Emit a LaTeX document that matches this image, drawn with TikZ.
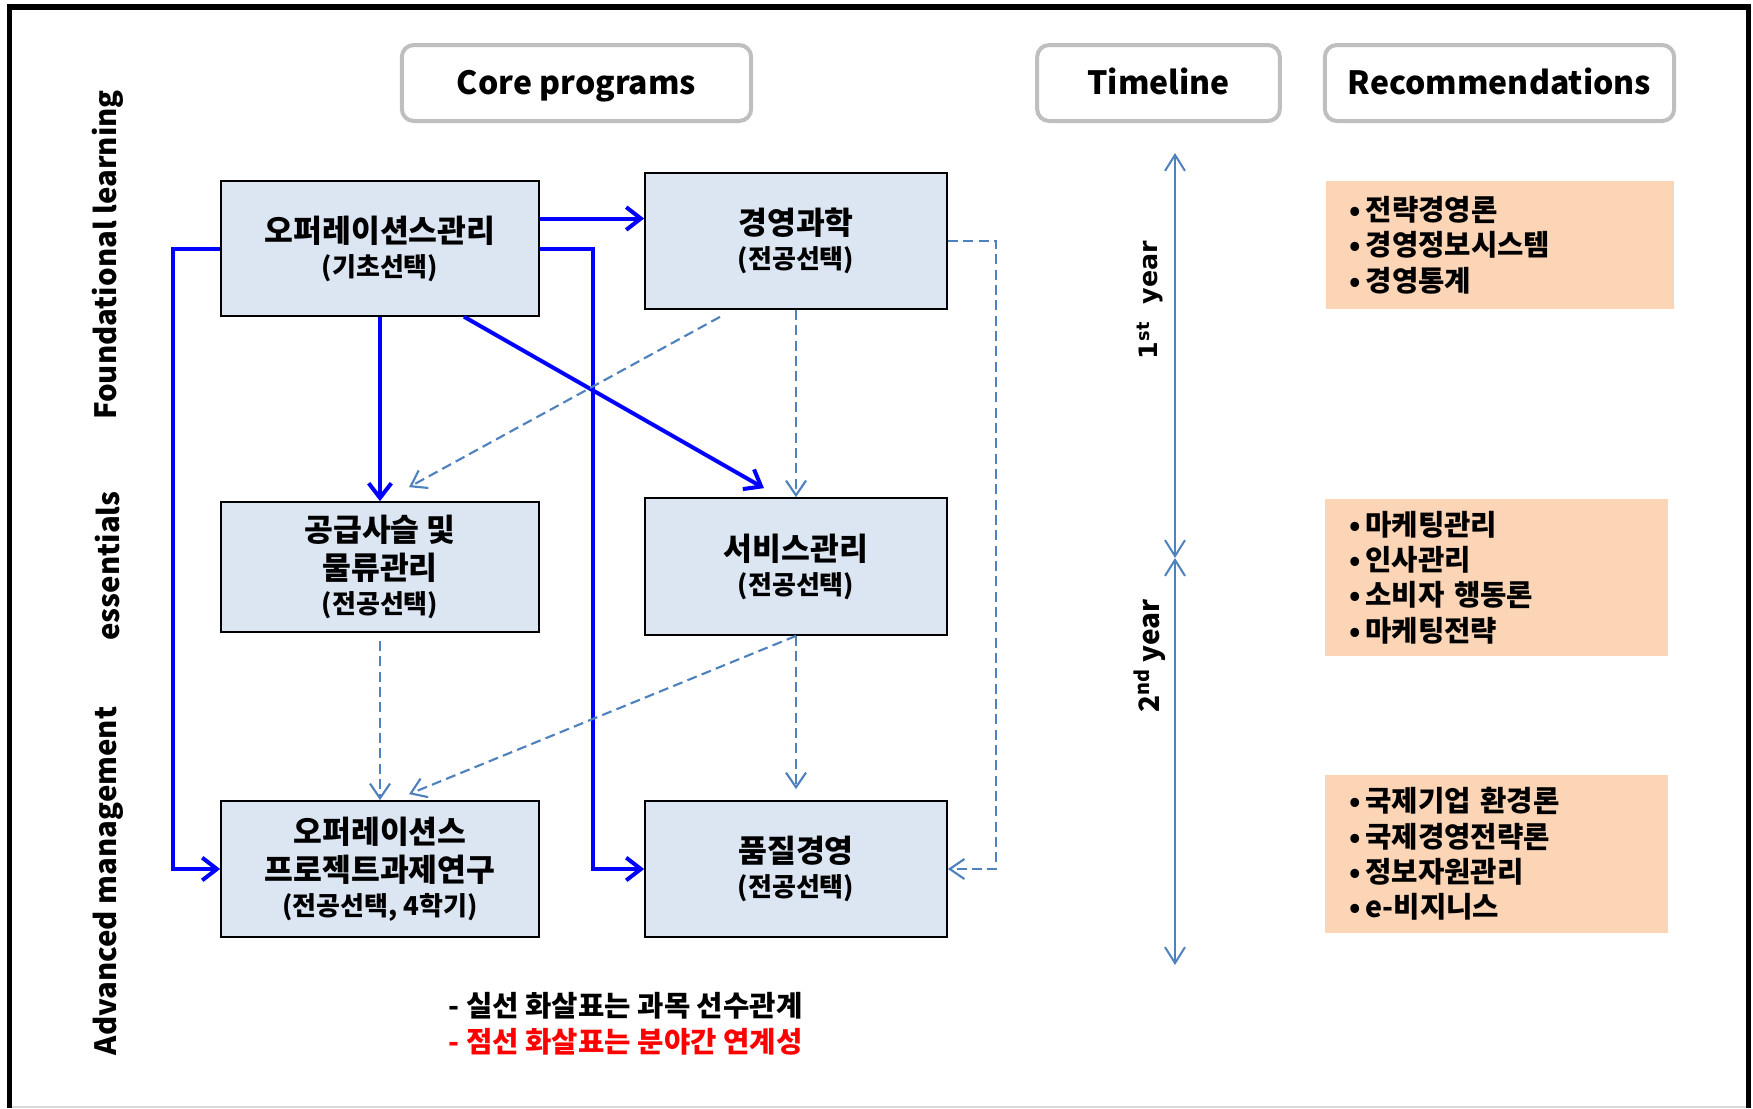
\documentclass[tikz,border=0pt]{standalone}
\usepackage{fontspec}
\setmainfont{Noto Sans CJK KR}
\newfontfamily\yearfont{DejaVu Sans}
\usetikzlibrary{arrows.meta,calc}
\definecolor{boxblue}{HTML}{DCE6F2}
\definecolor{peach}{HTML}{FBD5B5}
\definecolor{dashblue}{HTML}{4F81BD}
\definecolor{hdrgray}{HTML}{BFBFBF}
\definecolor{legendred}{HTML}{FF0000}
\begin{document}
\begin{tikzpicture}[x=0.75pt,y=-0.75pt,
  course/.style={draw=black,line width=1.3pt,fill=boxblue,align=center,inner sep=0pt,
    font=\bfseries\fontsize{23.5}{28.5}\selectfont},
  hdr/.style={draw=hdrgray,line width=3pt,rounded corners=9pt,fill=white,
    minimum height=57pt,inner sep=0pt,text height=20pt,text depth=3pt,
    font=\bfseries\fontsize{24}{28}\selectfont},
  rec/.style={fill=peach,inner ysep=0pt,inner xsep=18pt,align=left,
    font=\bfseries\fontsize{21.5}{26.5}\selectfont},
  side/.style={rotate=90,font=\bfseries\fontsize{22}{26}\selectfont},
  solidarr/.style={draw=blue,line width=3pt,-{Straight Barb[length=11pt,width=17pt]}},
  dasharr/.style={draw=dashblue,line width=1.6pt,dash pattern=on 7.5pt off 4pt,
    -{Straight Barb[length=11pt,width=15pt]}},
  timearr/.style={draw=dashblue,line width=1.5pt,
    {Straight Barb[length=12pt,width=15pt]}-{Straight Barb[length=12pt,width=15pt]}}
]
\useasboundingbox (0,0) rectangle (1753,1108);
% frame
\draw[black,line width=4pt] (9.5,1108) -- (9.5,7) -- (1748.5,7) -- (1748.5,1108);
\draw[black!15,line width=1.5pt] (12,1107) -- (1746,1107);

% headers
\node[hdr,minimum width=262pt] (hcore) at (576.5,83) {Core programs};
\node[hdr,minimum width=182pt] (htime) at (1158.5,83) {Timeline};
\node[hdr,minimum width=262pt] (hrec) at (1499.5,83) {Recommendations};

% side labels
\node[side] (s1) at (108,255) {Foundational learning};
\node[side] (s2) at (108,566) {essentials};
\node[side] (s3) at (108,881) {Advanced management};

% course boxes
\node[course,minimum width=238.5pt,minimum height=101pt] (A) at (380,248.5)
  {오퍼레이션스관리\\[-3pt]{\fontsize{19.5}{23}\selectfont (기초선택)}};
\node[course,minimum width=226.5pt,minimum height=102pt] (B) at (796,241)
  {경영과학\\[-3pt]{\fontsize{19.5}{23}\selectfont (전공선택)}};
\node[course,minimum width=238.5pt,minimum height=97.5pt] (C) at (380,567)
  {공급사슬 및\\물류관리\\[-3pt]{\fontsize{19.5}{23}\selectfont (전공선택)}};
\node[course,minimum width=226.5pt,minimum height=102.75pt] (D) at (796,566.5)
  {서비스관리\\[-3pt]{\fontsize{19.5}{23}\selectfont (전공선택)}};
\node[course,minimum width=238.5pt,minimum height=102pt] (E) at (380,869)
  {오퍼레이션스\\프로젝트과제연구\\[-3pt]{\fontsize{19.5}{23}\selectfont (전공선택, 4학기)}};
\node[course,minimum width=226.5pt,minimum height=102pt] (F) at (796,869)
  {품질경영\\[-3pt]{\fontsize{19.5}{23}\selectfont (전공선택)}};

% solid prerequisite arrows
\coordinate (ab) at ($(A.east)+(0,-30)$);
\draw[solidarr] (ab) -- (ab -| B.west);
\draw[solidarr] (A.west) -- ++(-47.5,0) |- (E.west);
\draw[solidarr] (A.east) -- ++(53,0) |- (F.west);
\draw[solidarr] (A.south) -- (C.north);
\coordinate (ad1) at ($(A.south)+(84,0)$);
\coordinate (ad2) at ($(D.north)+(-32,-9)$);
\draw[solidarr] (ad1) -- (ad2);

% dashed relation arrows
\coordinate (bc1) at ($(B.south)+(-76,7)$);
\coordinate (bc2) at ($(C.north)+(29,-14)$);
\draw[dasharr] (bc1) -- (bc2);
\draw[dasharr] (B.south) -- (D.north);
\draw[dasharr] (B.east) -- ++(48,0) |- (F.east);
\draw[dasharr,shorten <=6pt] (C.south) -- (E.north);
\coordinate (df) at ($(F.north)+(0,-11)$);
\draw[dasharr] (D.south) -- (df);
\coordinate (de) at ($(E.north)+(29,-6)$);
\draw[dasharr] (D.south) -- (de);

% legend
\node[anchor=west,font=\bfseries\fontsize{21.5}{24}\selectfont] (leg1) at (444,1006) {- 실선 화살표는 과목 선수관계};
\node[anchor=west,font=\bfseries\fontsize{21.5}{24}\selectfont,text=legendred] (leg2) at (444,1042) {- 점선 화살표는 분야간 연계성};

% timeline
\coordinate (t0) at (1175,153);
\coordinate (t1) at (1175,558);
\coordinate (t2) at (1175,965);
\draw[timearr] (t0) -- (t1);
\draw[timearr] (t1) -- (t2);
\node[rotate=90,font=\yearfont\bfseries\fontsize{19}{22}\selectfont] (y1) at (1150,300) {1\textsuperscript{st}~~year};
\node[rotate=90,font=\bfseries\fontsize{21}{24}\selectfont] (y2) at (1150,656) {2\textsuperscript{nd}~year};

% recommendations
\node[rec,text width=225pt,minimum height=96pt] (r1) at (1499.5,245)
  {•\,전략경영론\\•\,경영정보시스템\\•\,경영통계};
\node[rec,text width=221pt,minimum height=117.75pt] (r2) at (1496.5,577.5)
  {•\,마케팅관리\\•\,인사관리\\•\,소비자 행동론\\•\,마케팅전략};
\node[rec,text width=221pt,minimum height=118.5pt] (r3) at (1496.5,854)
  {•\,국제기업 환경론\\•\,국제경영전략론\\•\,정보자원관리\\•\,e-비지니스};
\end{tikzpicture}
\end{document}
